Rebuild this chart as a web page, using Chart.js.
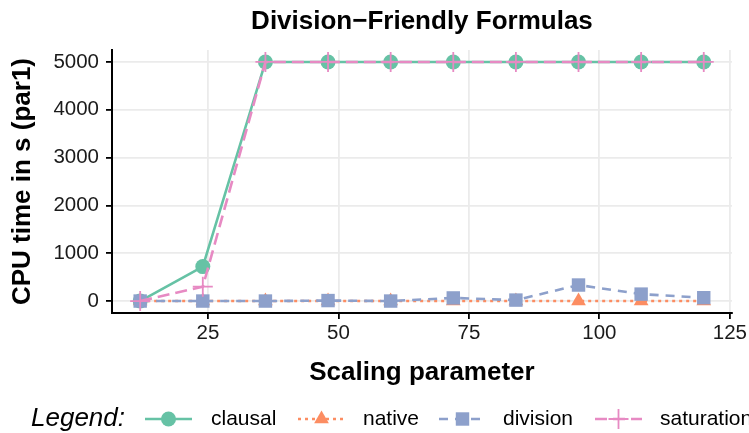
<!DOCTYPE html>
<html>
<head>
<meta charset="utf-8">
<script src="https://cdn.jsdelivr.net/npm/chart.js@4/dist/chart.umd.min.js"></script>
<style>
  html, body { margin: 0; padding: 0; background: #fff; }
  #wrap { width: 749px; height: 433px; }
</style>
</head>
<body>
<div id="wrap"><canvas id="chart" width="749" height="433"></canvas></div>
<script>
// scaling parameter values (x)
const scaling = [12, 24, 36, 48, 60, 72, 84, 96, 108, 120];

// CPU time in s (par1) per configuration
const clausal    = [0, 720, 5000, 5000, 5000, 5000, 5000, 5000, 5000, 5000];
const native     = [0, 0, 0, 0, 0, 0, 0, 0, 0, 0];
const division   = [0, 0, 0, 10, 0, 65, 20, 335, 145, 70];
const saturation = [0, 300, 5000, 5000, 5000, 5000, 5000, 5000, 5000, 5000];

const seriesNames = ["clausal", "native", "division", "saturation"];
const xTicks = [25, 50, 75, 100, 125];
const yTicks = [0, 1000, 2000, 3000, 4000, 5000];

const FONT = "'Liberation Sans', Arial, Helvetica, sans-serif";
const colors = ["#66c2a5", "#fc8d62", "#8da0cb", "#e78ac3"];
const dashes = [[], [3, 4], [9, 7], [12, 6]];
const shapes = ["circle", "triangle", "rect", "cross"];
const radii = [7.5, 8.5, 9.5, 10];

const toPoints = vals => vals.map((v, i) => ({ x: scaling[i], y: v }));
const allSeries = [clausal, native, division, saturation];

const datasets = allSeries.map((vals, i) => ({
  label: seriesNames[i],
  data: toPoints(vals),
  borderColor: colors[i],
  backgroundColor: colors[i],
  borderWidth: 2.6,
  borderDash: dashes[i],
  pointStyle: shapes[i],
  pointRadius: radii[i],
  pointHoverRadius: radii[i],
  pointBorderWidth: i === 3 ? 1.8 : 0,
  pointBorderColor: colors[i],
  pointBackgroundColor: colors[i],
  tension: 0,
  order: 3 - i
}));

// title over the panel + ggplot-style legend at the bottom
const decorations = {
  id: "decorations",
  afterDraw(chart) {
    const ctx = chart.ctx;
    const area = chart.chartArea;
    ctx.save();
    ctx.fillStyle = "#000";
    ctx.textBaseline = "middle";
    ctx.textAlign = "center";
    ctx.font = "bold 26px " + FONT;
    ctx.fillText("Division\u2212Friendly Formulas", (area.left + area.right) / 2, 22);

    const ly = 419;
    ctx.textAlign = "left";
    ctx.font = "italic 26px " + FONT;
    ctx.fillText("Legend:", 31, ly);

    const symX = [145, 298, 439, 595];
    const textX = [211, 363, 503, 660];
    ctx.font = "21px " + FONT;
    seriesNames.forEach((name, i) => {
      const x0 = symX[i], x1 = x0 + 47;
      ctx.strokeStyle = colors[i];
      ctx.lineWidth = 2.6;
      ctx.setLineDash(dashes[i]);
      ctx.beginPath();
      ctx.moveTo(x0, ly);
      ctx.lineTo(x1, ly);
      ctx.stroke();
      ctx.setLineDash([]);
      ctx.fillStyle = colors[i];
      ctx.lineWidth = 1.8;
      Chart.helpers.drawPoint(ctx, {
        pointStyle: shapes[i],
        radius: radii[i],
        rotation: 0,
        borderWidth: i === 3 ? 1.8 : 0
      }, (x0 + x1) / 2, ly);
      ctx.fillStyle = "#000";
      ctx.fillText(name, textX[i], ly);
    });
    ctx.restore();
  }
};

new Chart(document.getElementById("chart"), {
  type: "line",
  data: { datasets },
  options: {
    responsive: false,
    animation: false,
    layout: { padding: { top: 50, left: 0, right: 16, bottom: 45 } },
    plugins: {
      legend: { display: false },
      title: { display: false },
      tooltip: { enabled: false }
    },
    scales: {
      x: {
        type: "linear",
        min: 6.6,
        max: 125.4,
        afterBuildTicks: s => { s.ticks = xTicks.map(v => ({ value: v })); },
        afterFit: s => { s.height = 75; },
        grid: { color: "#ebebeb", lineWidth: 1.8, tickColor: "#000", tickLength: 6, tickWidth: 1.8 },
        border: { color: "#000", width: 2 },
        ticks: { color: "#1a1a1a", font: { family: FONT, size: 20.5 }, padding: 2, maxRotation: 0,
                 callback: v => String(v) },
        title: { display: true, text: "Scaling parameter", color: "#000",
                 font: { family: FONT, size: 26, weight: "bold" }, padding: { top: 0, bottom: 0 } }
      },
      y: {
        type: "linear",
        min: -250,
        max: 5250,
        afterBuildTicks: s => { s.ticks = yTicks.map(v => ({ value: v })); },
        afterFit: s => { s.width = 112; },
        grid: { color: "#ebebeb", lineWidth: 1.8, tickColor: "#000", tickLength: 6, tickWidth: 1.8 },
        border: { color: "#000", width: 2 },
        ticks: { color: "#1a1a1a", font: { family: FONT, size: 20.5 }, padding: 7,
                 callback: v => String(v) },
        title: { display: true, text: "CPU time in s (par1)", color: "#000",
                 font: { family: FONT, size: 26, weight: "bold" }, padding: { top: 7, bottom: 7 } }
      }
    }
  },
  plugins: [decorations]
});
</script>
</body>
</html>
